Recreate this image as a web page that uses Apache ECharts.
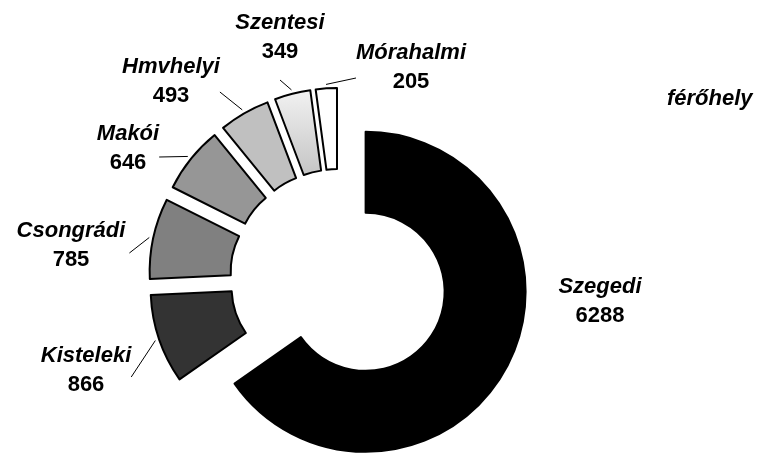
<!DOCTYPE html>
<html>
<head>
<meta charset="utf-8">
<script src="https://cdn.jsdelivr.net/npm/echarts@6/dist/echarts.min.js"></script>
<style>
  html, body { margin: 0; padding: 0; background: #fff; }
  #chart { width: 759px; height: 453px; }
</style>
</head>
<body>
<div id="chart"></div>
<script>
// Férőhelyek járásonként
const seriesName = 'férőhely';
const districts = ['Szegedi', 'Kisteleki', 'Csongrádi', 'Makói', 'Hmvhelyi', 'Szentesi', 'Mórahalmi'];
const places = [6288, 866, 785, 646, 493, 349, 205];

// Slice fills, in the same order as the districts
const fills = [
  '#000000',
  '#333333',
  '#808080',
  '#969696',
  '#c0c0c0',
  { type: 'linear', x: 0, y: 0, x2: 0, y2: 1,
    colorStops: [{ offset: 0, color: '#f2f2f2' }, { offset: 1, color: '#c4c4c4' }] },
  '#ffffff'
];

// Centre of each label's text block
const labelSpots = {
  'Szegedi':   [600, 301],
  'Kisteleki': [86, 370],
  'Csongrádi': [71, 245],
  'Makói':     [128, 148],
  'Hmvhelyi':  [171, 81],
  'Szentesi':  [280, 37],
  'Mórahalmi': [411, 67]
};
// Label box padding [top, right, bottom, left]; it decides where the leader line meets the label
const labelPads = {
  'Szegedi':   [0, 0, 0, 0],
  'Kisteleki': [0, 0, 14, 0],
  'Csongrádi': [0, 4, 16, 0],
  'Makói':     [0, 0, 18, 0],
  'Hmvhelyi':  [0, 0, 22, 0],
  'Szentesi':  [0, 0, 14, 0],
  'Mórahalmi': [0, 0, 22, 0]
};

const FONT = '"Liberation Sans", Arial, sans-serif';
const CENTER = [339, 278];

const chart = echarts.init(document.getElementById('chart'), null, { renderer: 'canvas' });

// Exploded ring: every slice pulled out along its bisector
const sliceData = districts.map((name, i) => ({
  name: name,
  value: places[i],
  selected: true,
  itemStyle: { color: fills[i] },
  select: { itemStyle: { color: fills[i], borderColor: '#000', borderWidth: 2 } }
}));

// Transparent companion ring that carries the labels and leader lines
const labelData = districts.map((name, i) => ({
  name: name,
  value: places[i],
  label: { padding: labelPads[name] },
  labelLine: { show: i !== 0 }
}));

chart.setOption({
  animation: false,
  backgroundColor: '#ffffff',
  title: {
    text: seriesName,
    left: 662,
    top: 83,
    textStyle: { fontFamily: FONT, fontSize: 22, fontWeight: 'bold', fontStyle: 'italic', color: '#000' }
  },
  series: [{
    name: seriesName,
    type: 'pie',
    center: CENTER,
    radius: [79, 160],
    startAngle: 90,
    clockwise: true,
    selectedMode: 'multiple',
    selectedOffset: 30,
    silent: true,
    emphasis: { disabled: true },
    itemStyle: { borderColor: '#000', borderWidth: 2 },
    label: { show: false },
    labelLine: { show: false },
    data: sliceData
  }, {
    name: seriesName,
    type: 'pie',
    center: CENTER,
    radius: [79, 194],
    startAngle: 90,
    clockwise: true,
    silent: true,
    z: 3,
    emphasis: { disabled: true },
    avoidLabelOverlap: false,
    itemStyle: { color: 'rgba(0,0,0,0)', borderWidth: 0 },
    label: {
      show: true,
      position: 'outside',
      color: '#000',
      backgroundColor: 'rgba(255,255,255,0)',
      formatter: p => '{n|' + p.name + '}\n{v|' + p.value + '}',
      rich: {
        n: { fontFamily: FONT, fontSize: 22, fontWeight: 'bold', fontStyle: 'italic', color: '#000', lineHeight: 29, align: 'center' },
        v: { fontFamily: FONT, fontSize: 22, fontWeight: 'bold', color: '#000', lineHeight: 29, align: 'center' }
      }
    },
    labelLine: { show: true, length: 8, length2: 0, lineStyle: { color: '#000', width: 1 } },
    labelLayout: params => {
      const name = districts[params.dataIndex];
      const spot = labelSpots[name];
      const pad = labelPads[name];
      return {
        x: spot[0] + (pad[1] - pad[3]) / 2,
        y: spot[1] + (pad[2] - pad[0]) / 2,
        align: 'center',
        verticalAlign: 'middle'
      };
    },
    data: labelData
  }]
});
</script>
</body>
</html>
